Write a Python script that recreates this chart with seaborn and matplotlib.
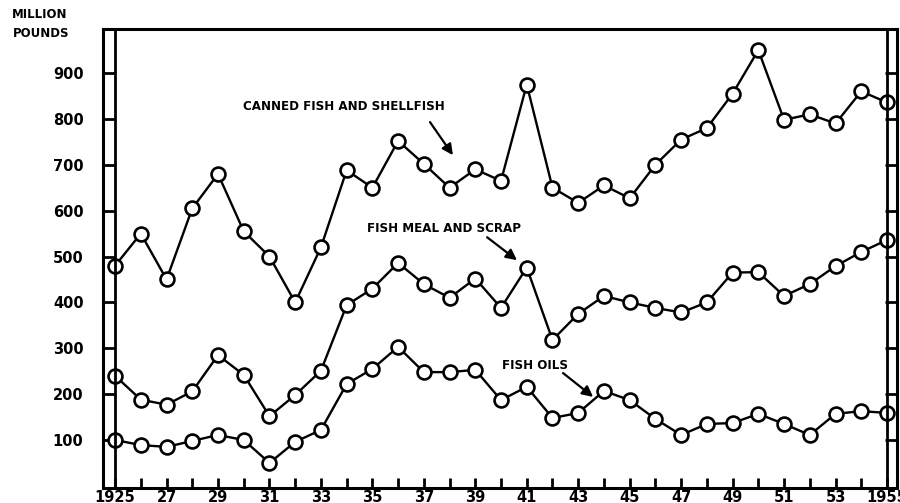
import numpy as np
import pandas as pd
import matplotlib
matplotlib.use('Agg')
import matplotlib.pyplot as plt
import seaborn as sns

# Fisheries production, million pounds, 1925-1955
years = list(range(1925, 1956))

canned = [480, 550, 450, 605, 680, 555, 500, 400, 520, 688, 650, 752, 702, 650, 690,
          665, 875, 650, 617, 655, 627, 700, 755, 780, 855, 950, 798, 810, 790, 860, 836]

meal = [240, 188, 177, 206, 285, 242, 152, 198, 251, 394, 430, 486, 440, 410, 452,
        388, 476, 318, 375, 414, 400, 388, 378, 400, 465, 466, 414, 440, 479, 510, 536]

oils = [100, 89, 85, 98, 111, 100, 50, 96, 122, 222, 255, 303, 248, 248, 253,
        187, 216, 148, 159, 207, 187, 146, 111, 135, 137, 157, 135, 111, 157, 163, 159]

series_names = ['CANNED FISH AND SHELLFISH', 'FISH MEAL AND SCRAP', 'FISH OILS']

df = pd.DataFrame({
    'year': years * 3,
    'value': canned + meal + oils,
    'series': [series_names[0]] * len(years) + [series_names[1]] * len(years) + [series_names[2]] * len(years),
})

sns.set_style('white')
plt.rcParams['font.family'] = ['DejaVu Sans']
plt.rcParams['text.color'] = 'black'
plt.rcParams['xtick.color'] = 'black'
plt.rcParams['ytick.color'] = 'black'

fig = plt.figure(figsize=(9, 5.03), dpi=100)
ax = fig.add_axes([103 / 900, 15 / 503, 794 / 900, 459 / 503])

sns.lineplot(
    data=df, x='year', y='value', hue='series',
    palette={s: 'black' for s in series_names},
    marker='o', markersize=10, markerfacecolor='white',
    markeredgecolor='black', markeredgewidth=1.9,
    linewidth=1.7, legend=False, ax=ax, zorder=3
)

ax.set_xlim(1924.53, 1955.39)
ax.set_ylim(-4.6, 996)

# double rails on both sides
ax.axvline(1925, color='black', lw=2.0, zorder=6)
ax.axvline(1955, color='black', lw=2.0, zorder=6)

for side in ['left', 'right', 'top', 'bottom']:
    ax.spines[side].set_visible(True)
    ax.spines[side].set_color('black')
    ax.spines[side].set_linewidth(2.2)

ax.set_yticks(range(100, 1000, 100))
ax.tick_params(axis='y', direction='in', length=8.6, width=2, left=True, right=True,
               pad=14, labelsize=10.5, colors='black')
ax.set_xticks(range(1925, 1956, 2))
ax.set_xticks(range(1926, 1955, 2), minor=True)
xlabels = ['1925'] + [str(y)[2:] for y in range(1927, 1955, 2)] + ['1955']
ax.set_xticklabels(xlabels)
ax.tick_params(axis='x', which='both', direction='in', length=7, width=2, bottom=True,
               pad=1.5, labelsize=10.5, colors='black')
for lab in ax.get_xticklabels() + ax.get_yticklabels():
    lab.set_fontweight('bold')

ax.set_xlabel('')
ax.set_ylabel('')

fig.text(12 / 900, 1 - 15 / 503, 'MILLION', fontsize=8.5, fontweight='bold', va='center')
fig.text(13 / 900, 1 - 33 / 503, 'POUNDS', fontsize=8.5, fontweight='bold', va='center')

# labels with arrows
labels = [
    ('CANNED FISH AND SHELLFISH', (1933.88, 826), (1937.24, 793), (1938.13, 721)),
    ('FISH MEAL AND SCRAP', (1937.77, 562), (1939.46, 542), (1940.62, 492)),
    ('FISH OILS', (1941.32, 263), (1942.41, 246), (1943.58, 194)),
]
for txt, pos, start, end in labels:
    ax.text(pos[0], pos[1], txt, ha='center', va='center', fontsize=8.6,
            fontweight='bold', color='black', zorder=7)
    ax.annotate('', xy=end, xytext=start,
                arrowprops=dict(arrowstyle='-|>', color='black', lw=1.6,
                                mutation_scale=16, shrinkA=0, shrinkB=0))

fig.savefig('out.png', dpi=100)
